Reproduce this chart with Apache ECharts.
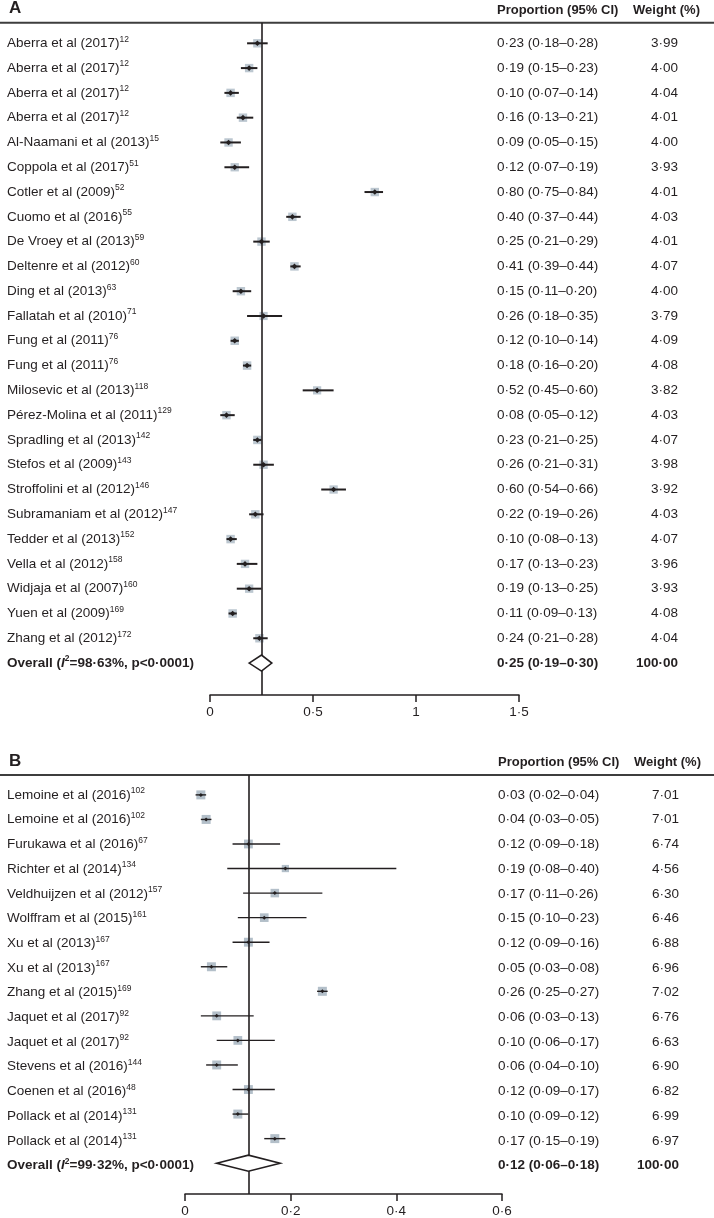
<!DOCTYPE html>
<html><head><meta charset="utf-8">
<script src="https://cdn.jsdelivr.net/npm/echarts@6/dist/echarts.min.js"></script>
<style>html,body{margin:0;padding:0;background:#fff}#c{width:714px;height:1218px}</style>
</head><body><div id="c"></div>
<script>
// ---------- Panel A data ----------
const namesA = ['Aberra et al (2017)','Aberra et al (2017)','Aberra et al (2017)','Aberra et al (2017)','Al-Naamani et al (2013)','Coppola et al (2017)','Cotler et al (2009)','Cuomo et al (2016)','De Vroey et al (2013)','Deltenre et al (2012)','Ding et al (2013)','Fallatah et al (2010)','Fung et al (2011)','Fung et al (2011)','Milosevic et al (2013)','Pérez-Molina et al (2011)','Spradling et al (2013)','Stefos et al (2009)','Stroffolini et al (2012)','Subramaniam et al (2012)','Tedder et al (2013)','Vella et al (2012)','Widjaja et al (2007)','Yuen et al (2009)','Zhang et al (2012)'];
const refsA = ['12','12','12','12','15','51','52','55','59','60','63','71','76','76','118','129','142','143','146','147','152','158','160','169','172'];
const estA = [0.23,0.19,0.10,0.16,0.09,0.12,0.80,0.40,0.25,0.41,0.15,0.26,0.12,0.18,0.52,0.08,0.23,0.26,0.60,0.22,0.10,0.17,0.19,0.11,0.24];
const loA  = [0.18,0.15,0.07,0.13,0.05,0.07,0.75,0.37,0.21,0.39,0.11,0.18,0.10,0.16,0.45,0.05,0.21,0.21,0.54,0.19,0.08,0.13,0.13,0.09,0.21];
const hiA  = [0.28,0.23,0.14,0.21,0.15,0.19,0.84,0.44,0.29,0.44,0.20,0.35,0.14,0.20,0.60,0.12,0.25,0.31,0.66,0.26,0.13,0.23,0.25,0.13,0.28];
const wA   = [3.99,4.00,4.04,4.01,4.00,3.93,4.01,4.03,4.01,4.07,4.00,3.79,4.09,4.08,3.82,4.03,4.07,3.98,3.92,4.03,4.07,3.96,3.93,4.08,4.04];
const overallA = [0.25, 0.19, 0.30, 100.00];      // estimate, low, high, weight
const overallStatsA = ['98·63%', 'p<0·0001'];
const tickValsA = [0, 0.5, 1, 1.5];
const tickLabelsA = ['0', '0·5', '1', '1·5'];

// ---------- Panel B data ----------
const namesB = ['Lemoine et al (2016)','Lemoine et al (2016)','Furukawa et al (2016)','Richter et al (2014)','Veldhuijzen et al (2012)','Wolffram et al (2015)','Xu et al (2013)','Xu et al (2013)','Zhang et al (2015)','Jaquet et al (2017)','Jaquet et al (2017)','Stevens et al (2016)','Coenen et al (2016)','Pollack et al (2014)','Pollack et al (2014)'];
const refsB = ['102','102','67','134','157','161','167','167','169','92','92','144','48','131','131'];
const estB = [0.03,0.04,0.12,0.19,0.17,0.15,0.12,0.05,0.26,0.06,0.10,0.06,0.12,0.10,0.17];
const loB  = [0.02,0.03,0.09,0.08,0.11,0.10,0.09,0.03,0.25,0.03,0.06,0.04,0.09,0.09,0.15];
const hiB  = [0.04,0.05,0.18,0.40,0.26,0.23,0.16,0.08,0.27,0.13,0.17,0.10,0.17,0.12,0.19];
const wB   = [7.01,7.01,6.74,4.56,6.30,6.46,6.88,6.96,7.02,6.76,6.63,6.90,6.82,6.99,6.97];
const overallB = [0.12, 0.06, 0.18, 100.00];
const overallStatsB = ['99·32%', 'p<0·0001'];
const tickValsB = [0, 0.2, 0.4, 0.6];
const tickLabelsB = ['0', '0·2', '0·4', '0·6'];

const headerCI = 'Proportion (95% CI)';
const headerW = 'Weight (%)';

// ---------- styling / layout ----------
const FONT = "'Liberation Sans',Arial,sans-serif";
const INK = '#231f20';
const layout = {
  A: {letter:'A', rowTop:43.3, rowStep:24.79, headerY:22.7, axisY:695, x0:210, x1:519, nameX:7, ciX:497, wX:678,
      sq:4.2, sqColor:'#bcc7d0', dot:2.8, ciW:2},
  B: {letter:'B', rowTop:795, rowStep:24.7, headerY:775, axisY:1196.5, x0:185, x1:502, nameX:7, ciX:498, wX:679,
      sq:3.4, sqColor:'#b3bfc9', dot:2, ciW:1.4}
};
const fmt = v => v.toFixed(2).replace('.', '\u00b7');

const grids = [], xAxes = [], yAxes = [], series = [], graphics = [];
const FS = 13.5;
const richNames = {
  n: {fontSize: FS, color: INK, fontFamily: FONT},
  s: {fontSize: 8.5, color: INK, fontFamily: FONT, padding: [0, 0, 8, 0]},
  ob: {fontSize: FS, color: INK, fontFamily: FONT, fontWeight: 'bold'},
  oi: {fontSize: FS, color: INK, fontFamily: FONT, fontWeight: 'bold', fontStyle: 'italic'},
  os: {fontSize: 8.5, color: INK, fontFamily: FONT, fontWeight: 'bold', padding: [0, 0, 8, 0]}
};
const richVals = {
  v: {fontSize: FS, color: INK, fontFamily: FONT},
  b: {fontSize: FS, color: INK, fontFamily: FONT, fontWeight: 'bold'}
};

function buildPanel(P, D) {
  const n = D.names.length, nRows = n + 1;
  const gMarks = grids.length, gText = gMarks + 1;
  grids.push({left: P.x0, width: P.x1 - P.x0, top: P.headerY, height: P.axisY - P.headerY});
  grids.push({left: P.x0, width: P.x1 - P.x0, top: P.rowTop - P.rowStep / 2, height: nRows * P.rowStep});

  const xm = xAxes.length;
  xAxes.push({
    gridIndex: gMarks, type: 'value', min: D.ticks[0], max: D.ticks[D.ticks.length - 1],
    interval: D.ticks[1] - D.ticks[0],
    axisLine: {show: true, onZero: false, lineStyle: {color: INK, width: 1.5}},
    axisTick: {show: true, length: 7, lineStyle: {color: INK, width: 1.5}},
    splitLine: {show: false},
    axisLabel: {margin: 10, fontSize: FS, color: INK, fontFamily: FONT,
      formatter: v => { const k = D.ticks.findIndex(t => Math.abs(t - v) < 1e-9); return k < 0 ? '' : D.tickLabels[k]; }}
  });
  xAxes.push({gridIndex: gText, type: 'value', show: false, min: 0, max: 1});

  const ym = yAxes.length;
  yAxes.push({gridIndex: gMarks, type: 'value', inverse: true, show: false,
    min: (P.headerY - P.rowTop) / P.rowStep, max: (P.axisY - P.rowTop) / P.rowStep});
  const rowIds = Array.from({length: nRows}, (_, i) => 'r' + i);
  const baseCat = {gridIndex: gText, type: 'category', inverse: true, data: rowIds, position: 'left',
    axisLine: {show: false}, axisTick: {show: false}, splitLine: {show: false}};
  yAxes.push(Object.assign({}, baseCat, {
    axisLabel: {interval: 0, margin: P.x0 - P.nameX, align: 'left', rich: richNames,
      formatter: (v, i) => i < n ? `{n|${D.names[i]}}{s|${D.refs[i]}}`
        : `{ob|Overall (}{oi|I}{os|2}{ob|=${D.stats[0]}, ${D.stats[1]})}`}
  }));
  yAxes.push(Object.assign({}, baseCat, {offset: P.x0 - P.ciX,
    axisLabel: {interval: 0, margin: 0, align: 'left', rich: richVals,
      formatter: (v, i) => {
        const e = i < n ? D.est[i] : D.overall[0], l = i < n ? D.lo[i] : D.overall[1], h = i < n ? D.hi[i] : D.overall[2];
        return `{${i < n ? 'v' : 'b'}|${fmt(e)} (${fmt(l)}\u2013${fmt(h)})}`;
      }}
  }));
  yAxes.push(Object.assign({}, baseCat, {offset: P.x0 - P.wX,
    axisLabel: {interval: 0, margin: 0, align: 'right', rich: richVals,
      formatter: (v, i) => `{${i < n ? 'v' : 'b'}|${fmt(i < n ? D.w[i] : D.overall[3])}}`}
  }));

  const rows = D.est.map((e, i) => [e, D.lo[i], D.hi[i], D.w[i], i]);
  // weight squares
  series.push({type: 'custom', xAxisIndex: xm, yAxisIndex: ym, z: 1, silent: true, data: rows,
    renderItem: (params, api) => {
      const p = api.coord([api.value(0), api.value(4)]);
      const s = P.sq * Math.sqrt(api.value(3));
      return {type: 'rect', shape: {x: p[0] - s / 2, y: p[1] - s / 2, width: s, height: s}, style: {fill: P.sqColor}};
    }});
  // reference line at overall estimate
  series.push({type: 'line', xAxisIndex: xm, yAxisIndex: ym, z: 2, silent: true, symbol: 'none',
    data: [[D.overall[0], n]], lineStyle: {opacity: 0},
    markLine: {silent: true, z: 2, symbol: ['none', 'none'], label: {show: false}, animation: false,
      lineStyle: {color: INK, width: 1.6, type: 'solid'}, data: [{xAxis: D.overall[0]}]}});
  // CI whiskers and point estimate dots
  series.push({type: 'custom', xAxisIndex: xm, yAxisIndex: ym, z: 3, silent: true, data: rows,
    renderItem: (params, api) => {
      const r = api.value(4);
      const p = api.coord([api.value(0), r]), a = api.coord([api.value(1), r]), b = api.coord([api.value(2), r]);
      const d = P.dot;
      return {type: 'group', children: [
        {type: 'line', shape: {x1: a[0], y1: p[1], x2: b[0], y2: p[1]}, style: {stroke: INK, lineWidth: P.ciW}},
        {type: 'polygon', shape: {points: [[p[0] - d, p[1]], [p[0], p[1] - d], [p[0] + d, p[1]], [p[0], p[1] + d]]}, style: {fill: INK}}
      ]};
    }});
  // overall diamond
  series.push({type: 'custom', xAxisIndex: xm, yAxisIndex: ym, z: 6, silent: true,
    data: [[D.overall[0], D.overall[1], D.overall[2], n]],
    renderItem: (params, api) => {
      const r = api.value(3);
      const c = api.coord([api.value(0), r]), a = api.coord([api.value(1), r]), b = api.coord([api.value(2), r]);
      const hh = 8;
      return {type: 'polygon', shape: {points: [[a[0], c[1]], [c[0], c[1] - hh], [b[0], c[1]], [c[0], c[1] + hh]]},
        style: {fill: '#fff', stroke: INK, lineWidth: 1.6}};
    }});

  // header rule, panel letter, column headers
  graphics.push({type: 'line', shape: {x1: 0, y1: P.headerY, x2: 714, y2: P.headerY}, style: {stroke: '#3d3d3d', lineWidth: 2}, silent: true});
  graphics.push({type: 'text', x: 9, y: P.headerY - 14, silent: true,
    style: {text: P.letter, fill: INK, font: `bold 17px ${FONT}`, textAlign: 'left', textVerticalAlign: 'middle', align: 'left', verticalAlign: 'middle'}});
  graphics.push({type: 'text', x: P.ciX, y: P.headerY - 12.5, silent: true,
    style: {text: headerCI, fill: INK, font: `bold 13px ${FONT}`, textAlign: 'left', textVerticalAlign: 'middle', align: 'left', verticalAlign: 'middle'}});
  graphics.push({type: 'text', x: P.wX + 22, y: P.headerY - 12.5, silent: true,
    style: {text: headerW, fill: INK, font: `bold 13px ${FONT}`, textAlign: 'right', textVerticalAlign: 'middle', align: 'right', verticalAlign: 'middle'}});
}

buildPanel(layout.A, {names: namesA, refs: refsA, est: estA, lo: loA, hi: hiA, w: wA, overall: overallA, stats: overallStatsA, ticks: tickValsA, tickLabels: tickLabelsA});
buildPanel(layout.B, {names: namesB, refs: refsB, est: estB, lo: loB, hi: hiB, w: wB, overall: overallB, stats: overallStatsB, ticks: tickValsB, tickLabels: tickLabelsB});

const chart = echarts.init(document.getElementById('c'), null, {renderer: 'canvas', width: 714, height: 1218});
chart.setOption({
  animation: false,
  backgroundColor: '#fff',
  grid: grids, xAxis: xAxes, yAxis: yAxes, series: series,
  graphic: {elements: graphics}
});
</script>
</body></html>
